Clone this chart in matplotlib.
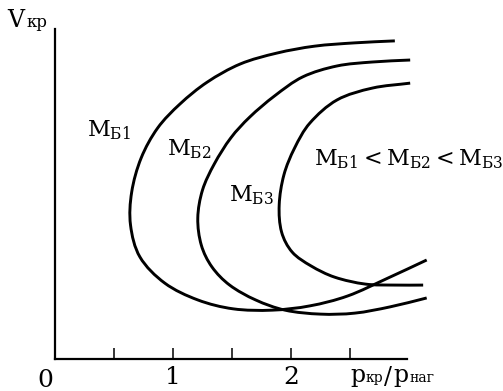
import matplotlib
matplotlib.use("Agg")
import matplotlib.pyplot as plt
import numpy as np
from matplotlib.path import Path
from matplotlib.patches import PathPatch

plt.rcParams['font.family'] = 'DejaVu Serif'
plt.rcParams['mathtext.fontset'] = 'dejavuserif'

# V_kr against p_kr/p_nag, one C-shaped curve per M_B
x_b1 = [2.88, 2.54, 2.20, 1.88, 1.57, 1.29, 1.06, 0.87, 0.73, 0.65, 0.64, 0.72,
        0.93, 1.21, 1.51, 1.84, 2.16, 2.48, 2.82, 3.15]
v_b1 = [9.64, 9.58, 9.48, 9.27, 8.94, 8.39, 7.73, 7.00, 6.09, 5.06, 4.06, 3.09,
        2.30, 1.79, 1.52, 1.48, 1.61, 1.91, 2.45, 3.00]

x_b2 = [3.01, 2.69, 2.39, 2.10, 1.86, 1.65, 1.49, 1.35, 1.25, 1.21, 1.24, 1.33,
        1.48, 1.70, 1.95, 2.25, 2.54, 2.84, 3.15]
v_b2 = [9.06, 9.00, 8.88, 8.55, 7.97, 7.33, 6.70, 5.91, 5.12, 4.27, 3.45, 2.79,
        2.24, 1.79, 1.48, 1.36, 1.39, 1.58, 1.85]

x_b3 = [3.01, 2.69, 2.39, 2.16, 2.03, 1.94, 1.90, 1.92, 2.01, 2.17, 2.37, 2.63, 2.88, 3.12]
v_b3 = [8.36, 8.21, 7.85, 7.15, 6.39, 5.58, 4.67, 3.85, 3.24, 2.82, 2.48, 2.27, 2.24, 2.24]

ticks = [0.5, 1.0, 1.5, 2.0, 2.5]
tick_labels = ['', '1', '', '2', '']

PX_X, PX_Y = 118, 33  # pixels per unit on each axis


def smooth_path(xs, ys):
    # centripetal Catmull-Rom through the points, as cubic Bezier segments
    p = np.column_stack([xs, ys]).astype(float)
    q = p * [PX_X, PX_Y]
    d = np.hypot(*np.diff(q, axis=0).T) ** 0.5
    t = np.concatenate([[0], np.cumsum(d)])
    m = np.zeros_like(p)
    m[1:-1] = (p[2:] - p[:-2]) / (t[2:] - t[:-2])[:, None]
    m[0] = (p[1] - p[0]) / d[0]
    m[-1] = (p[-1] - p[-2]) / d[-1]
    verts = [p[0]]
    codes = [Path.MOVETO]
    for i in range(len(p) - 1):
        h = d[i] / 3
        verts += [p[i] + m[i] * h, p[i + 1] - m[i + 1] * h, p[i + 1]]
        codes += [Path.CURVE4] * 3
    return Path(verts, codes)


W, H = 503, 391
fig = plt.figure(figsize=(W / 100, H / 100), dpi=100)
ax = fig.add_axes([55 / W, 32 / H, 3.2 * PX_X / W, 10 * PX_Y / H])
ax.set_xlim(0, 3.2)
ax.set_ylim(0, 10)

for xs, ys in [(x_b1, v_b1), (x_b2, v_b2), (x_b3, v_b3)]:
    ax.add_patch(PathPatch(smooth_path(xs, ys), fill=False, lw=2.1,
                           edgecolor='black', clip_on=False))

ax.spines['top'].set_visible(False)
ax.spines['right'].set_visible(False)
ax.spines['left'].set_linewidth(1.6)
ax.spines['bottom'].set_linewidth(1.6)
ax.spines['bottom'].set_bounds(0, 2.98)

ax.set_yticks([])
ax.set_xticks(ticks)
ax.set_xticklabels(tick_labels, fontsize=18)
ax.tick_params(axis='x', direction='in', length=8, width=1.1, pad=5)


def label(x, y, s, size):
    fig.text(x / W, 1 - y / H, s, fontsize=size, va='baseline')


fig.text(45 / W, 1 - 387 / H, '0', fontsize=18, ha='center', va='baseline')

# axis names: large letter followed by small lowercase on the same baseline
label(7, 27, 'V', 17)
label(26, 27, 'кр', 12)
label(350, 382, 'p', 17)
label(366, 382, 'кр', 10)
label(384, 384, '/', 17)
label(393, 382, 'p', 17)
label(409, 382, 'наг', 10)

label(87, 136, r'$\mathrm{M_{Б1}}$', 16)
label(167, 155, r'$\mathrm{M_{Б2}}$', 16)
label(229, 201, r'$\mathrm{M_{Б3}}$', 16)
label(314, 165, r'$\mathrm{M_{Б1}{<}M_{Б2}{<}M_{Б3}}$', 16)

fig.savefig('out.png', dpi=100)
